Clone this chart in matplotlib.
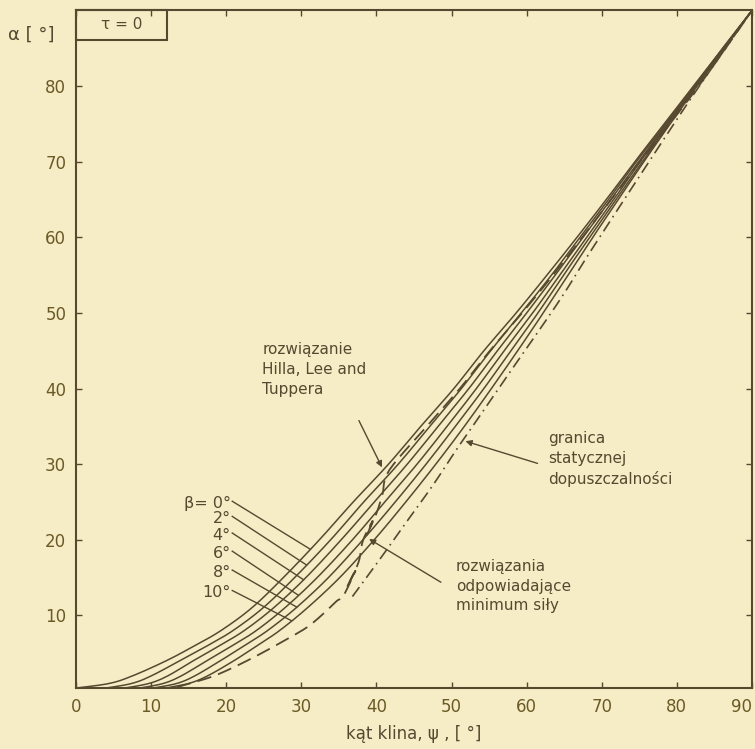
import numpy as np
import matplotlib
matplotlib.use("Agg")
from matplotlib import pyplot as plt
from matplotlib.patches import Rectangle

# alpha levels shared by the beta curves
alpha = [0.4, 1, 2, 4, 6, 8, 11, 15, 20, 25, 30, 35, 40, 45, 50, 55, 60, 65, 70, 75, 80, 85, 90]

# wedge angle psi for each beta curve
psi_b0 = [0, 4.4, 7.5, 12.0, 15.8, 19.3, 23.4, 27.6, 32.4, 36.9, 41.6, 45.9, 50.3, 54.3, 58.6, 62.7, 66.7, 70.6, 74.4, 78.3, 82.2, 86.1, 90]
psi_b2 = [4.0, 7.4, 10.0, 13.8, 17.5, 20.9, 24.9, 29.1, 33.9, 38.3, 42.9, 47.1, 51.3, 55.2, 59.3, 63.3, 67.1, 70.9, 74.6, 78.5, 82.3, 86.1, 90]
psi_b4 = [6.5, 9.7, 12.2, 15.6, 19.1, 22.4, 26.3, 30.6, 35.3, 39.7, 44.1, 48.2, 52.3, 56.1, 60.0, 63.8, 67.5, 71.2, 74.9, 78.6, 82.4, 86.2, 90]
psi_b6 = [8.5, 11.6, 14.0, 17.4, 20.8, 24.0, 27.8, 32.1, 36.8, 41.1, 45.4, 49.4, 53.3, 57.0, 60.8, 64.4, 68.0, 71.6, 75.1, 78.8, 82.5, 86.2, 90]
psi_b8 = [10.3, 13.4, 15.8, 19.2, 22.4, 25.5, 29.3, 33.6, 38.2, 42.5, 46.6, 50.5, 54.3, 57.9, 61.5, 64.9, 68.4, 71.9, 75.4, 78.9, 82.6, 86.3, 90]
psi_b10 = [12.0, 15.0, 17.5, 21.0, 24.1, 27.1, 30.8, 35.1, 39.7, 43.9, 47.9, 51.7, 55.3, 58.8, 62.2, 65.5, 68.8, 72.2, 75.6, 79.1, 82.7, 86.3, 90]
beta_labels = ["0°", "2°", "4°", "6°", "8°", "10°"]

# rozwiazania odpowiadajace minimum sily (dashed, with the zigzag jump)
min_psi = [13.4, 17.8, 20.9, 24.5, 27.6, 30.7, 32.9, 34.7, 35.6, 37.2, 36.1, 37.6, 38.2, 39.5, 38.7, 40.0, 40.8, 41.7, 46.7, 51.1, 55.1, 59.4, 63.5, 67.4, 75.1, 82.9, 90]
min_alpha = [0.5, 1.8, 3.1, 4.9, 6.6, 8.4, 10.2, 11.9, 12.6, 15.9, 13.8, 17.0, 19.9, 22.5, 20.6, 23.5, 26.0, 29.2, 35, 40, 45, 50, 55, 60, 70, 80, 90]

# granica statycznej dopuszczalnosci (dash-dot)
lim_psi = [36.8, 40.5, 44.1, 47.5, 50.7, 53.0, 58.0, 64.2, 68.6, 75.3, 82.3, 90]
lim_alpha = [12.5, 17.5, 22.5, 27.2, 32.0, 35.3, 42.5, 51.4, 58.3, 68.5, 79.0, 90]

bg = "#f6edc6"
ink = "#574830"
lab = "#6a5a26"

plt.rcParams["font.family"] = ["DejaVu Sans"]


def smooth(x, y, n=10):
    # catmull-rom through the read points, only for drawing
    p = np.column_stack([x, y]).astype(float)
    P = np.vstack([p[0], p, p[-1]])
    t = np.linspace(0, 1, n, endpoint=False)[:, None]
    out = []
    for i in range(1, len(P) - 2):
        p0, p1, p2, p3 = P[i - 1], P[i], P[i + 1], P[i + 2]
        out.append(0.5 * (2 * p1 + (-p0 + p2) * t + (2 * p0 - 5 * p1 + 4 * p2 - p3) * t ** 2
                          + (-p0 + 3 * p1 - 3 * p2 + p3) * t ** 3))
    out.append(P[-2][None, :])
    q = np.vstack(out)
    return q[:, 0], q[:, 1]


fig = plt.figure(figsize=(7.55, 7.49), dpi=100)
fig.patch.set_facecolor(bg)
ax = fig.add_axes([0.1007, 0.0814, 0.8953, 0.9046])
ax.set_facecolor(bg)

curves = [psi_b0, psi_b2, psi_b4, psi_b6, psi_b8, psi_b10]
for c in curves:
    sx, sy = smooth(c, alpha)
    ax.plot(sx, sy, color=ink, lw=1.1)

sx, sy = smooth(min_psi, min_alpha, 6)
ax.plot(sx, sy, color=ink, lw=1.3, ls=(0, (8, 4)))
sx, sy = smooth(lim_psi, lim_alpha)
ax.plot(sx, sy, color=ink, lw=1.2, ls=(0, (7, 3, 1, 3)))

ax.set_xlim(0, 90)
ax.set_ylim(0.4, 90)
ax.set_xticks(range(0, 91, 10))
ax.set_yticks(range(10, 81, 10))
ax.tick_params(direction="in", length=4, width=1, top=True, right=True,
               colors=ink, labelcolor=lab, labelsize=12, pad=7)
ax.get_xticklabels()[-1].set_ha("right")
for s in ax.spines.values():
    s.set_color(ink)
    s.set_linewidth(1.5)

ax.set_xlabel("kąt klina, ψ , [ °]", fontsize=12, color=ink, labelpad=7)
fig.text(0.01, 0.953, "α [ °]", fontsize=13, color=ink, va="center")

# tau box
ax.add_patch(Rectangle((0, 0.9565), 0.1346, 0.0435, transform=ax.transAxes,
                       fill=False, ec=ink, lw=1.5, clip_on=False))
ax.text(0.068, 0.979, "τ = 0", transform=ax.transAxes, ha="center", va="center",
        fontsize=11, color=ink)

# beta labels with leader lines
lab_y = [24.8, 22.8, 20.6, 18.2, 15.7, 13.0]
end_x = [31.2, 30.7, 30.3, 29.6, 29.4, 28.7]
for i in range(6):
    txt = "β= " + beta_labels[i] if i == 0 else beta_labels[i]
    ax.text(20.6, lab_y[i], txt, ha="right", va="center", fontsize=11.5, color=ink)
    ey = np.interp(end_x[i], curves[i], alpha)
    ax.plot([20.8, end_x[i]], [lab_y[i] + 0.3, ey], color=ink, lw=1.0)

arr = dict(arrowstyle="-|>", color=ink, lw=1.0, mutation_scale=9)

ax.text(24.8, 46.2, "rozwiązanie\nHilla, Lee and\nTuppera", ha="left", va="top",
        fontsize=11, color=ink, linespacing=1.45)
ax.annotate("", xy=(40.9, np.interp(40.9, psi_b0, alpha)), xytext=(37.5, 36.1),
            arrowprops=arr)

ax.text(62.9, 34.4, "granica\nstatycznej\ndopuszczalności", ha="left", va="top",
        fontsize=11, color=ink, linespacing=1.4)
ax.annotate("", xy=(51.5, np.interp(51.5, lim_psi, lim_alpha)), xytext=(61.8, 30.0),
            arrowprops=arr)

ax.text(50.6, 17.4, "rozwiązania\nodpowiadające\nminimum siły", ha="left", va="top",
        fontsize=11, color=ink, linespacing=1.35)
ax.annotate("", xy=(38.7, 20.3), xytext=(48.9, 14.2), arrowprops=arr)

fig.savefig("out.png", dpi=100, facecolor=bg)
